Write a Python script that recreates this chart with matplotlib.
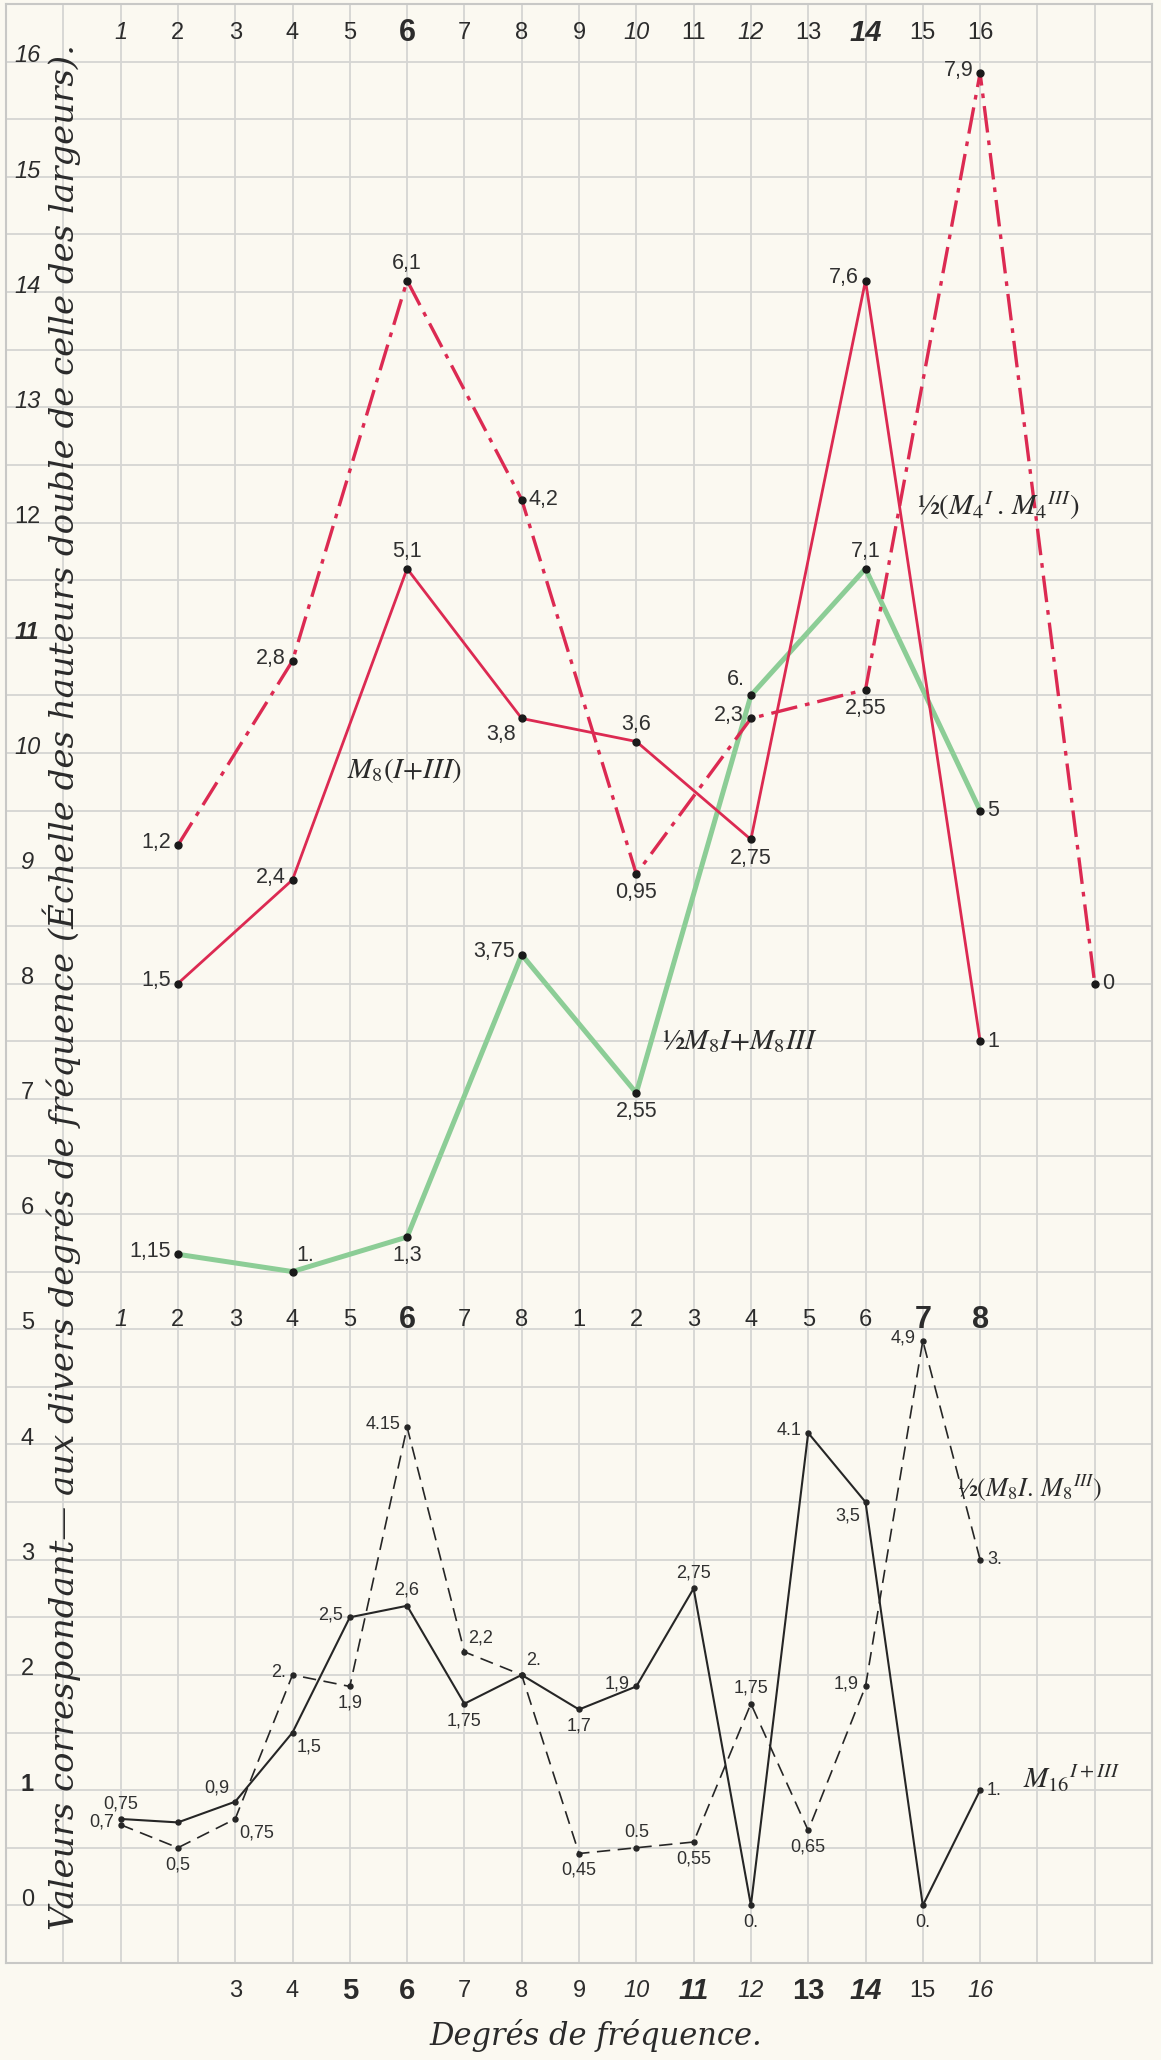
import matplotlib.pyplot as plt
import numpy as np

# --- haut du graphique : valeurs écrites sur la courbe, décalées verticalement ---
m4_x = [2, 4, 6, 8, 10, 12, 14, 16, 18]
m4_vals = [1.2, 2.8, 6.1, 4.2, 0.95, 2.3, 2.55, 7.9, 0]
m4_text = ['1,2', '2,8', '6,1', '4,2', '0,95', '2,3', '2,55', '7,9', '0']
m4_shift = 8

m8_x = [2, 4, 6, 8, 10, 12, 14, 16]
m8_vals = [1.5, 2.4, 5.1, 3.8, 3.6, 2.75, 7.6, 1]
m8_text = ['1,5', '2,4', '5,1', '3,8', '3,6', '2,75', '7,6', '1']
m8_shift = 6.5

half_x = [2, 4, 6, 8, 10, 12, 14, 16]
half_vals = [1.15, 1.0, 1.3, 3.75, 2.55, 6.0, 7.1, 5]
half_text = ['1,15', '1.', '1,3', '3,75', '2,55', '6.', '7,1', '5']
half_shift = 4.5

# --- bas du graphique ---
deg_all = list(range(1, 17))
m16_vals = [0.75, 0.72, 0.9, 1.5, 2.5, 2.6, 1.75, 2.0, 1.7, 1.9, 2.75, 0, 4.1, 3.5, 0, 1.0]
m16_text = ['0,75', '', '0,9', '1,5', '2,5', '2,6', '1,75', '2.', '1,7', '1,9', '2,75', '0.',
            '4.1', '3,5', '0.', '1.']
m8p_vals = [0.7, 0.5, 0.75, 2.0, 1.9, 4.15, 2.2, 2.0, 0.45, 0.5, 0.55, 1.75, 0.65, 1.9, 4.9, 3.0]
m8p_text = ['0,7', '0,5', '0,75', '2.', '1,9', '4.15', '2,2', '', '0,45', '0.5', '0,55', '1,75',
            '0,65', '1,9', '4,9', '3.']

# etiquettes des axes
top_row = [str(i) for i in range(1, 17)]
mid_row = [str(i) for i in range(1, 9)] * 2
bot_cols = list(range(3, 17))
bot_row = [str(i) for i in bot_cols]
y_labels = list(range(0, 17))

# placement des etiquettes de points
m4_pos = ['l', 'l', 'a', 'r', 'b', 'l', 'b', 'l', 'r']
m8_pos = ['l', 'l', 'a', 'bl', 'a', 'b', 'l', 'r']
half_pos = ['l', 'ar', 'b', 'l', 'b', 'al', 'a', 'r']
m16_pos = ['a', 'a', 'al', 'br', 'l', 'a', 'b', 'ar', 'b', 'l', 'a', 'b', 'l', 'bl', 'b', 'r']
m8p_pos = ['l', 'b', 'br', 'l', 'b', 'l', 'ar', 'a', 'b', 'a', 'b', 'a', 'b', 'l', 'l', 'r']

OFF = {'l': (-5, 2, 'right', 'center'), 'r': (5, 0, 'left', 'center'),
       'a': (0, 5, 'center', 'bottom'), 'b': (0, -6, 'center', 'top'),
       'al': (-4, 4, 'right', 'bottom'), 'ar': (3, 4, 'left', 'bottom'),
       'bl': (-4, -4, 'right', 'top'), 'br': (3, -4, 'left', 'top')}

RED = '#dc2a52'
GREEN = '#8ccd96'
INK = '#262626'
PAPER = '#fbf9f1'
GRID = '#d5d5d3'
NUM = ['Liberation Sans', 'DejaVu Sans']

plt.rcParams['mathtext.fontset'] = 'stix'

fig = plt.figure(figsize=(11.61, 20.60), dpi=100, facecolor=PAPER)
ax = fig.add_axes([6 / 1161, 97 / 2060, 1146 / 1161, 1959 / 2060])
ax.set_facecolor(PAPER)
ax.set_xlim(-1, 19)
ax.set_ylim(-0.5, 16.5)
ax.set_xticks(np.arange(-1, 20))
ax.set_yticks(np.arange(-0.5, 16.6, 0.5))
ax.grid(True, color=GRID, lw=1.3)
ax.tick_params(length=0, labelleft=False, labelbottom=False)
for s in ax.spines.values():
    s.set_color('#c8c8c6')
    s.set_linewidth(1.5)


def labels(xs, ys, texts, pos, size):
    for x, y, t, p in zip(xs, ys, texts, pos):
        if not t:
            continue
        dx, dy, ha, va = OFF[p]
        ax.annotate(t, (x, y), xytext=(dx, dy), textcoords='offset points',
                    ha=ha, va=va, fontsize=size, color='#303030', family=NUM)


# courbes du haut
y4 = np.array(m4_vals) + m4_shift
ax.plot(m4_x, y4, color=RED, lw=2.4, ls=(0, (8, 2.4, 1.4, 2.4)), zorder=3)
y8 = np.array(m8_vals) + m8_shift
ax.plot(m8_x, y8, color=RED, lw=2.0, zorder=3)
yh = np.array(half_vals) + half_shift
ax.plot(half_x, yh, color=GREEN, lw=3.6, zorder=2)
for xs, ys in [(m4_x, y4), (m8_x, y8), (half_x, yh)]:
    ax.plot(xs, ys, 'o', color='#1a1a1a', ms=5, zorder=4)
labels(m4_x, y4, m4_text, m4_pos, 15.5)
labels(m8_x, y8, m8_text, m8_pos, 15.5)
labels(half_x, yh, half_text, half_pos, 15.5)

# courbes du bas
ax.plot(deg_all, m16_vals, color=INK, lw=1.5, zorder=3)
ax.plot(deg_all, m8p_vals, color=INK, lw=1.2, ls=(0, (8, 4.5)), zorder=3)
ax.plot(deg_all, m16_vals, 'o', color=INK, ms=3.6, zorder=4)
ax.plot(deg_all, m8p_vals, 'o', color=INK, ms=3.6, zorder=4)
labels(deg_all, m16_vals, m16_text, m16_pos, 13)
labels(deg_all, m8p_vals, m8p_text, m8p_pos, 13)

# noms des courbes
ser = dict(family='STIXGeneral', color='#2a2a2a', ha='left', va='center')
ax.text(4.95, 9.85, r'$M_8(I{+}III)$', fontsize=21, **ser)
ax.text(14.9, 12.15, r'½$(M_4{}^{I}\,.\,M_4{}^{III})$', fontsize=21, **ser)
ax.text(10.45, 7.5, r'½$M_8I{+}M_8III$', fontsize=21, **ser)
ax.text(15.6, 3.62, r'½$(M_8I.\,M_8{}^{III})$', fontsize=19, **ser)
ax.text(16.75, 1.1, r'$M_{16}{}^{I+III}$', fontsize=21, **ser)

# chiffres des degres
bold_top = {'6': 22, '14': 21}
for i, t in enumerate(top_row):
    sz = bold_top.get(t, 17)
    ax.text(i + 1, 16.25, t, ha='center', va='center', fontsize=sz, family=NUM,
            weight='bold' if t in bold_top else 'normal',
            style='italic' if t in ('1', '10', '12', '14') else 'normal', color='#2c2c2c')
for i, t in enumerate(mid_row):
    big = i in (5, 14, 15)
    ax.text(i + 1, 5.08, t, ha='center', va='center', fontsize=22 if big else 17,
            family=NUM, weight='bold' if big else 'normal',
            style='italic' if i == 0 else 'normal', color='#2c2c2c')
for c, t in zip(bot_cols, bot_row):
    big = t in ('5', '6', '11', '13', '14')
    ax.text(c, -0.74, t, ha='center', va='center', fontsize=21 if big else 17,
            family=NUM, weight='bold' if big else 'normal',
            style='italic' if t in ('10', '11', '12', '14', '16') else 'normal',
            color='#2c2c2c')
for v in y_labels:
    ax.text(-0.63, v + 0.05, str(v), ha='center', va='center', fontsize=17, family=NUM,
            style='italic' if v >= 9 and v != 12 else 'normal',
            weight='bold' if v in (11, 1) else 'normal', color='#2c2c2c')

ax.text(-0.03, 7.97, 'Valeurs correspondant— aux divers degrés de fréquence '
        '(Échelle des hauteurs double de celle des largeurs).',
        rotation=90, ha='center', va='center', fontsize=24.5, family='DejaVu Serif',
        style='italic', color='#2a2a2a')
ax.text(9.3, -1.13, 'Degrés de fréquence.', ha='center', va='center', fontsize=22,
        family='DejaVu Serif', style='italic', color='#2a2a2a')

fig.savefig('out.png', dpi=100, facecolor=PAPER)
